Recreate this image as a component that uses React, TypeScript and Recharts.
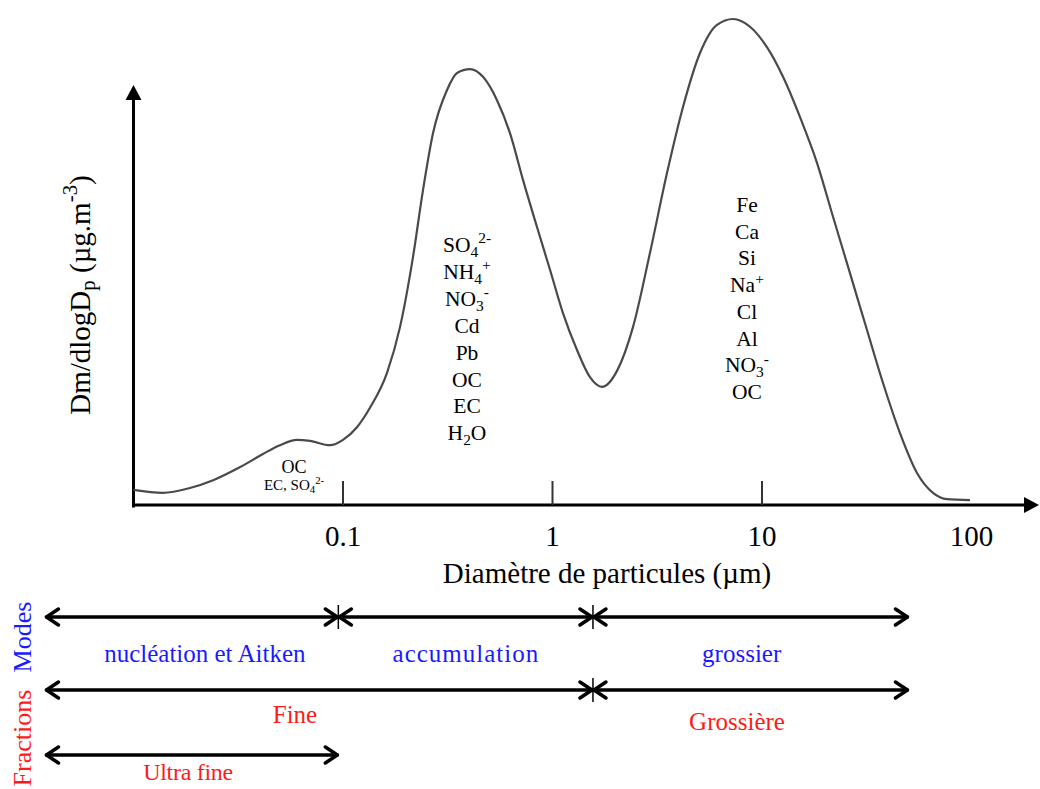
import React from 'react';
import { ComposedChart, Line, XAxis, YAxis, ReferenceLine, ReferenceDot } from 'recharts';

// particle diameter (µm) and relative mass distribution dm/dlogDp (peak = 100)
const diameters = [
  0.01, 0.0138, 0.0186, 0.024, 0.0323, 0.0415, 0.05, 0.0603, 0.0696, 0.0867,
  0.1, 0.1166, 0.1345, 0.1622, 0.1871, 0.2158, 0.2409, 0.2689, 0.3137, 0.3501,
  0.4039, 0.4659, 0.5434, 0.6267, 0.723, 0.8433, 0.973, 1.122, 1.309, 1.51,
  1.723, 2.032, 2.422, 2.92, 3.52, 4.197, 5.059, 6.099, 7.271, 8.764,
  10.56, 12.6, 15.19, 18.3, 21.83, 26.3, 31.71, 37.81, 45.57, 54.94,
  65.51, 76.39, 98.35,
];
const massConc = [
  3.1, 2.5, 3.5, 5.1, 7.8, 10.5, 12.3, 13.4, 13.2, 12.3,
  13.4, 16.0, 20.0, 27.2, 36.6, 51.0, 64.8, 76.5, 85.4, 88.9,
  89.7, 88.1, 83.3, 76.5, 66.9, 57.2, 48.4, 39.5, 31.9, 26.3,
  24.3, 27.6, 36.6, 51.9, 68.3, 81.9, 93.0, 98.8, 100, 98.4,
  94.2, 88.1, 79.8, 70.4, 59.3, 47.7, 36.0, 25.1, 14.8, 6.6,
  2.5, 1.2, 1.0,
];

// size ranges (µm)
const modeEdges = [0.0038, 0.095, 1.56, 50];
const modeNames = ['nucléation et Aitken', 'accumulation', 'grossier'];
const modeLabelAt = [0.0219, 0.386, 8.0];
const fractionEdges = [0.0038, 1.56, 50];
const fractionNames = ['Fine', 'Grossière'];
const fractionLabelAt = [0.059, 7.6];
const ultraFineEdges = [0.0038, 0.095];
const ultraFineLabelAt = 0.0182;

const xTicks = [0.1, 1, 10];
const xTickLabels = ['0.1', '1', '10', '100'];
const xTickLabelAt = [0.1, 1, 10, 100];

const aitkenSpecies = ['OC', 'EC, SO_{4}^{2-}'];
const accumSpecies = ['SO_{4}^{2-}', 'NH_{4}^{+}', 'NO_{3}^{-}', 'Cd', 'Pb', 'OC', 'EC', 'H_{2}O'];
const coarseSpecies = ['Fe', 'Ca', 'Si', 'Na^{+}', 'Cl', 'Al', 'NO_{3}^{-}', 'OC'];

const data = diameters.map((d, i) => ({ d, v: massConc[i] }));

// layout
const W = 1040;
const H = 789;
const X_ORIGIN = 133.5; // px of 0.01 µm
const DECADE = 209.5;
const Y_ORIGIN = 505;
const UNIT = 4.86;
const dAt = (px: number) => Math.pow(10, -2 + (px - X_ORIGIN) / DECADE);
const vAt = (py: number) => (Y_ORIGIN - py) / UNIT;

const FONT = "'Liberation Serif', 'Times New Roman', serif";
const BLUE = '#1a1aff';
const RED = '#ff1a1a';

function rich(s: string, size: number) {
  const parts = s.match(/_\{[^}]*\}|\^\{[^}]*\}|[^_^]+/g) || [];
  let shift = 0;
  return parts.map((p, i) => {
    let target = 0;
    let txt = p;
    let fs = size;
    if (p.startsWith('_{')) { target = 0.28 * size; txt = p.slice(2, -1); fs = size * 0.72; }
    else if (p.startsWith('^{')) { target = -0.35 * size; txt = p.slice(2, -1); fs = size * 0.72; }
    const dy = target - shift;
    shift = target;
    return <tspan key={i} dy={dy} fontSize={fs}>{txt}</tspan>;
  });
}

type TxtOpts = { color?: string; rotate?: number; sx?: number; spacing?: number };

const textShape = (text: string, size: number, o: TxtOpts = {}) => (p: any) => (
  <text
    transform={`translate(${p.cx},${p.cy}) rotate(${o.rotate || 0}) scale(${o.sx || 1},1)`}
    textAnchor="middle"
    dominantBaseline="central"
    fontFamily={FONT}
    fontSize={size}
    fill={o.color || '#000'}
    letterSpacing={o.spacing || 0}
  >
    {rich(text, size)}
  </text>
);

const axisArrow = (p: any) => {
  const { x1, y1, x2, y2 } = p;
  const len = Math.hypot(x2 - x1, y2 - y1);
  const ux = (x2 - x1) / len;
  const uy = (y2 - y1) / len;
  const bx = x2 - ux * 15;
  const by = y2 - uy * 15;
  const nx = -uy * 8;
  const ny = ux * 8;
  return (
    <g>
      <line x1={x1} y1={y1} x2={bx} y2={by} stroke="#000" strokeWidth={3} strokeLinecap="square" />
      <polygon points={`${x2},${y2} ${bx + nx},${by + ny} ${bx - nx},${by - ny}`} fill="#000" />
    </g>
  );
};

const rangeArrow = (p: any) => {
  const { x1, y1, x2, y2 } = p;
  const h = 13;
  const w = 8;
  return (
    <g stroke="#000" strokeWidth={3.5} fill="none" strokeLinecap="round" strokeLinejoin="round">
      <line x1={x1 + 1} y1={y1} x2={x2 - 1} y2={y2} />
      <polyline points={`${x1 + h},${y1 - w} ${x1 + 1},${y1} ${x1 + h},${y1 + w}`} />
      <polyline points={`${x2 - h},${y2 - w} ${x2 - 1},${y2} ${x2 - h},${y2 + w}`} />
    </g>
  );
};

const MODE_ROW = 617;
const FRACTION_ROW = 690;
const ULTRA_ROW = 755;

export default function App() {
  return (
    <div style={{ position: 'absolute', left: 0, top: 0, width: W, height: H, background: '#fff' }}>
      <ComposedChart width={W} height={H} data={data} margin={{ top: 0, right: 0, bottom: 0, left: 0 }}>
        <XAxis dataKey="d" type="number" scale="log" domain={[dAt(0), dAt(W)]} allowDataOverflow hide />
        <YAxis type="number" domain={[vAt(H), vAt(0)]} allowDataOverflow hide />

        {/* axes */}
        <ReferenceLine segment={[{ x: 0.01, y: vAt(506) }, { x: 0.01, y: vAt(85) }]} shape={axisArrow} ifOverflow="visible" />
        <ReferenceLine segment={[{ x: 0.01, y: 0 }, { x: dAt(1039), y: 0 }]} shape={axisArrow} ifOverflow="visible" />
        {xTicks.map((t) => (
          <ReferenceLine key={t} segment={[{ x: t, y: 0 }, { x: t, y: vAt(481) }]} stroke="#333" strokeWidth={2} ifOverflow="visible" />
        ))}
        {xTickLabels.map((l, i) => (
          <ReferenceDot key={l} x={xTickLabelAt[i]} y={vAt(536)} r={0} ifOverflow="visible" shape={textShape(l, 29)} />
        ))}
        <ReferenceDot x={dAt(607)} y={vAt(573)} r={0} ifOverflow="visible" shape={textShape('Diamètre de particules (µm)', 29)} />
        <ReferenceDot x={dAt(80)} y={vAt(295)} r={0} ifOverflow="visible" shape={textShape('Dm/dlogD_{p} (µg.m^{-3})', 29, { rotate: -90 })} />

        <Line dataKey="v" type="monotone" stroke="#4a4a4a" strokeWidth={2.2} dot={false} activeDot={false} isAnimationActive={false} />

        {/* chemical species */}
        {aitkenSpecies.map((s, i) => (
          <ReferenceDot key={'a' + i} x={dAt(294)} y={vAt(467 + i * 18)} r={0} ifOverflow="visible" shape={textShape(s, i === 0 ? 18 : 15)} />
        ))}
        {accumSpecies.map((s, i) => (
          <ReferenceDot key={'b' + i} x={dAt(467)} y={vAt(245 + i * 26.9)} r={0} ifOverflow="visible" shape={textShape(s, 21.5)} />
        ))}
        {coarseSpecies.map((s, i) => (
          <ReferenceDot key={'c' + i} x={dAt(747)} y={vAt(205 + i * 26.7)} r={0} ifOverflow="visible" shape={textShape(s, 21.5)} />
        ))}

        {/* modes */}
        {modeNames.map((n, i) => (
          <ReferenceLine key={'m' + i} segment={[{ x: modeEdges[i], y: vAt(MODE_ROW) }, { x: modeEdges[i + 1], y: vAt(MODE_ROW) }]} shape={rangeArrow} ifOverflow="visible" />
        ))}
        {modeEdges.slice(1, -1).map((e) => (
          <ReferenceLine key={'ms' + e} segment={[{ x: e, y: vAt(MODE_ROW - 12) }, { x: e, y: vAt(MODE_ROW + 12) }]} stroke="#000" strokeWidth={1.5} ifOverflow="visible" />
        ))}
        {modeNames.map((n, i) => (
          <ReferenceDot key={'ml' + i} x={modeLabelAt[i]} y={vAt(653)} r={0} ifOverflow="visible" shape={textShape(n, 25, { color: BLUE, spacing: i === 1 ? 1 : 0 })} />
        ))}

        {/* fractions */}
        {fractionNames.map((n, i) => (
          <ReferenceLine key={'f' + i} segment={[{ x: fractionEdges[i], y: vAt(FRACTION_ROW) }, { x: fractionEdges[i + 1], y: vAt(FRACTION_ROW) }]} shape={rangeArrow} ifOverflow="visible" />
        ))}
        {fractionEdges.slice(1, -1).map((e) => (
          <ReferenceLine key={'fs' + e} segment={[{ x: e, y: vAt(FRACTION_ROW - 12) }, { x: e, y: vAt(FRACTION_ROW + 12) }]} stroke="#000" strokeWidth={1.5} ifOverflow="visible" />
        ))}
        <ReferenceDot x={fractionLabelAt[0]} y={vAt(714)} r={0} ifOverflow="visible" shape={textShape(fractionNames[0], 25, { color: RED })} />
        <ReferenceDot x={fractionLabelAt[1]} y={vAt(721)} r={0} ifOverflow="visible" shape={textShape(fractionNames[1], 25, { color: RED })} />
        <ReferenceLine segment={[{ x: ultraFineEdges[0], y: vAt(ULTRA_ROW) }, { x: ultraFineEdges[1], y: vAt(ULTRA_ROW) }]} shape={rangeArrow} ifOverflow="visible" />
        <ReferenceDot x={ultraFineLabelAt} y={vAt(772)} r={0} ifOverflow="visible" shape={textShape('Ultra fine', 24, { color: RED, spacing: -0.3 })} />

        <ReferenceDot x={dAt(22)} y={vAt(637)} r={0} ifOverflow="visible" shape={textShape('Modes', 26, { color: BLUE, rotate: -90 })} />
        <ReferenceDot x={dAt(22)} y={vAt(738)} r={0} ifOverflow="visible" shape={textShape('Fractions', 26, { color: RED, rotate: -90 })} />
      </ComposedChart>
    </div>
  );
}
